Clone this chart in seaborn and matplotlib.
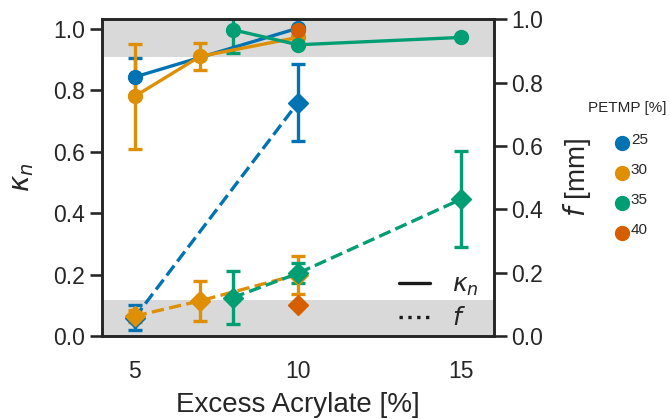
import matplotlib
matplotlib.use("Agg")
import numpy as np
import matplotlib.pyplot as plt
from matplotlib.lines import Line2D
from matplotlib.legend_handler import HandlerLine2D
import seaborn as sns

sns.set_theme(style="ticks", context="talk", palette="colorblind")
plt.rcParams['font.family'] = ['Liberation Sans', 'DejaVu Sans']

# ---- data ----
petmp = ["25", "30", "35", "40"]

x_25 = [5, 10]
kn_25 = [0.843, 1.002]
kn_err_25 = [0.062, 0.0]
f_25 = [0.058, 0.737]
f_err_25 = [0.040, 0.121]

x_30 = [5, 7, 10]
kn_30 = [0.780, 0.910, 0.972]
kn_err_30 = [0.172, 0.043, 0.0]
f_30 = [0.063, 0.111, 0.194]
f_err_30 = [0.02, 0.064, 0.060]

x_35 = [8, 10, 15]
kn_35 = [0.997, 0.948, 0.972]
kn_err_35 = [0.076, 0.0, 0.0]
f_35 = [0.121, 0.198, 0.432]
f_err_35 = [0.083, 0.032, 0.152]

x_40 = [10]
kn_40 = [0.997]
kn_err_40 = [0.0]
f_40 = [0.097]
f_err_40 = [0.0]

xticks = [5, 10, 15]
yticks = [0.0, 0.2, 0.4, 0.6, 0.8, 1.0]

series = [
    (x_25, kn_25, kn_err_25, f_25, f_err_25),
    (x_30, kn_30, kn_err_30, f_30, f_err_30),
    (x_35, kn_35, kn_err_35, f_35, f_err_35),
    (x_40, kn_40, kn_err_40, f_40, f_err_40),
]

colors = sns.color_palette("colorblind")[:4]

fig = plt.figure(figsize=(6.71, 4.19), dpi=100)
ax = fig.add_subplot(111)
fig.subplots_adjust(left=0.152, right=0.736, top=0.954, bottom=0.198)
ax2 = ax.twinx()

band = '#d9d9d9'
ax.axhspan(0.908, 1.2, color=band, lw=0, zorder=0)
ax.axhspan(-0.1, 0.118, color=band, lw=0, zorder=0)

for (xs, kn, kne, fv, fe), c in zip(series, colors):
    ax.errorbar(xs, kn, yerr=kne, color=c, marker='o', ms=10, lw=2.4,
                ls='-', capsize=5, elinewidth=2.4, capthick=2.4)
    ax2.errorbar(xs, fv, yerr=fe, color=c, marker='D', ms=10.5, lw=2.4,
                 ls='--', capsize=5, elinewidth=2.4, capthick=2.4)

ax.set_xlim(4, 16)
ax.set_ylim(0, 1.031)
ax2.set_ylim(0, 1.0)
ax.set_xticks(xticks)
ax.set_yticks(yticks)
ax2.set_yticks(yticks)
ax.set_yticklabels([f"{v:.1f}" for v in yticks])
ax2.set_yticklabels([f"{v:.1f}" for v in yticks])
ax.tick_params(axis='x', length=0, pad=17)
ax2.tick_params(axis='x', length=0)

ax.set_xlabel("Excess Acrylate [%]", fontsize=20, labelpad=7)
ax.set_ylabel(r"$\kappa_n$", fontsize=20, labelpad=12)
ax2.set_ylabel(r"$f$ [mm]", fontsize=20, labelpad=13)

style_handles = [Line2D([], [], color='k', ls='-', lw=2.4),
                 Line2D([], [], color='k', ls=':', lw=2.4)]
ax2.legend(style_handles, [r"$\kappa_n$", r"$f$"], loc='upper left',
           bbox_to_anchor=(0.758, 0.199), frameon=False, fontsize=18,
           handlelength=1.24, handletextpad=0.88, labelspacing=0.33,
           borderpad=0, borderaxespad=0)


class LowMarker(HandlerLine2D):
    def create_artists(self, legend, orig_handle, xdescent, ydescent,
                       width, height, fontsize, trans):
        arts = super().create_artists(legend, orig_handle, xdescent, ydescent,
                                      width, height, fontsize, trans)
        for a in arts:
            a.set_ydata(np.asarray(a.get_ydata(), dtype=float) - 3.0)
        return arts


fig.text(627 / 671, 1 - 108 / 419, "PETMP [%]", fontsize=11,
         ha='center', va='center')
petmp_handles = [Line2D([], [], color=c, marker='o', ls='', ms=10) for c in colors]
fig.legend(petmp_handles, petmp, loc='upper left',
           bbox_to_anchor=(0.915, 1 - 133 / 419), frameon=False, fontsize=11,
           handletextpad=0.1, labelspacing=1.05, handlelength=1.0,
           borderpad=0, borderaxespad=0,
           handler_map={Line2D: LowMarker()})

fig.savefig("out.png", dpi=100)
